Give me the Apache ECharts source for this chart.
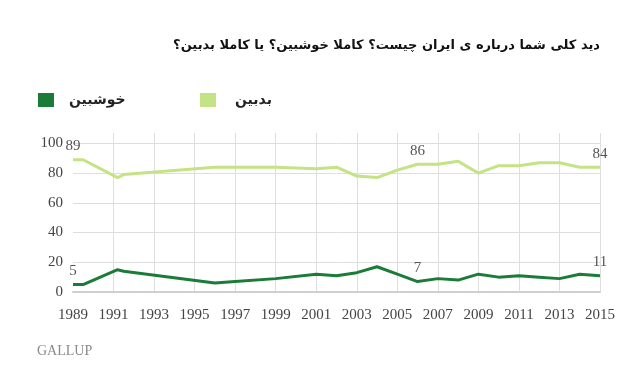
<!DOCTYPE html>
<html><head><meta charset="utf-8">
<script src="https://cdn.jsdelivr.net/npm/echarts@6/dist/echarts.min.js"></script>
<style>html,body{margin:0;padding:0;background:#fff}#c{width:630px;height:374px}</style>
</head><body><div id="c"></div>
<script>
var titleText = 'دید کلی شما درباره ی ایران چیست؟ کاملا خوشبین؟ یا کاملا بدبین؟';
var seriesNames = ['خوشبین', 'بدبین'];
var years = [1989, 1989.5, 1991.2, 1991.5, 1996, 1997, 1999, 2001, 2002, 2003, 2004, 2005, 2006, 2007, 2008, 2009, 2010, 2011, 2012, 2013, 2014, 2015];
var optimistic = [5, 5, 15, 14, 6, 7, 9, 12, 11, 13, 17, 12, 7, 9, 8, 12, 10, 11, 10, 9, 12, 11];
var pessimistic = [89, 89, 77, 79, 84, 84, 84, 83, 84, 78, 77, 82, 86, 86, 88, 80, 85, 85, 87, 87, 84, 84];
var labelledIdx = [0, 12, 21];
var colors = ['#1b7c3a', '#c4e384'];

function build(vals){
  return years.map(function(y,i){
    var d = {value:[y, vals[i]]};
    if (labelledIdx.indexOf(i) >= 0) d.label = {show:true};
    return d;
  });
}
var numFont = 'Liberation Serif';
var legendText = {fontFamily:'DejaVu Sans', fontSize:14, fontWeight:'bold', color:'#222'};
var chart = echarts.init(document.getElementById('c'), null, {renderer:'canvas'});
chart.setOption({
  animation:false,
  title:{text:titleText, right:25, top:34, textStyle:{fontFamily:'DejaVu Sans', fontSize:13, fontWeight:'bold', color:'#111'}},
  legend:[
    {data:[seriesNames[0]], left:33, top:88, itemWidth:16, itemHeight:14, icon:'rect',
     textStyle:Object.assign({padding:[0,0,0,10]}, legendText)},
    {data:[seriesNames[1]], left:195, top:88, itemWidth:16, itemHeight:14, icon:'rect',
     textStyle:Object.assign({padding:[0,0,0,14]}, legendText)}
  ],
  grid:{left:73, right:30, top:133, bottom:82},
  xAxis:{type:'value', min:1989, max:2015, interval:2,
    axisLine:{show:true, lineStyle:{color:'#cfcfcf', width:2}},
    axisTick:{show:false},
    axisLabel:{margin:16, fontFamily:numFont, fontSize:15, color:'#444', formatter:function(v){return String(v);}},
    splitLine:{show:true, showMinLine:false, lineStyle:{color:'#dedede', width:1}}
  },
  yAxis:{type:'value', min:0, max:107, interval:20,
    axisLine:{show:false}, axisTick:{show:false},
    axisLabel:{margin:10, fontFamily:numFont, fontSize:15, color:'#444', showMaxLabel:false,
      formatter:function(v){return v>100?'':String(v);}},
    splitLine:{show:true, showMaxLine:false, lineStyle:{color:'#dedede', width:1}}
  },
  series:[
    {name:seriesNames[0], type:'line', data:build(optimistic), symbol:'circle', symbolSize:0, showSymbol:true,
     color:colors[0], lineStyle:{width:3, color:colors[0]},
     label:{show:false, position:'top', distance:6, fontFamily:numFont, fontSize:15, color:'#555'}},
    {name:seriesNames[1], type:'line', data:build(pessimistic), symbol:'circle', symbolSize:0, showSymbol:true,
     color:colors[1], lineStyle:{width:3, color:colors[1]},
     label:{show:false, position:'top', distance:6, fontFamily:numFont, fontSize:15, color:'#555'}}
  ],
  graphic:[{type:'text', left:37, top:344, style:{text:'GALLUP', fontFamily:'Liberation Serif', fontSize:14, fill:'#8a8a8a'}}]
});
</script></body></html>
